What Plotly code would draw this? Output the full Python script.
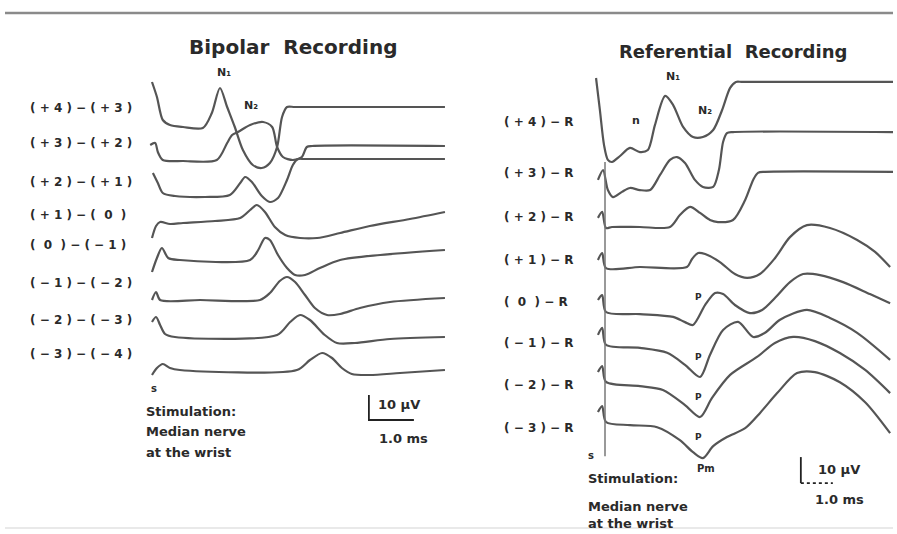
import plotly.graph_objects as go

W, H = 897, 534

# ---------------- Bipolar recording (left) : time in ms, amplitude in µV re. trace baseline
bip_labels = ["( + 4 ) − ( + 3 )", "( + 3 ) − ( + 2 )", "( + 2 ) − ( + 1 )", "( + 1 ) − (  0  )",
              "(  0  ) − ( − 1 )", "( − 1 ) − ( − 2 )", "( − 2 ) − ( − 3 )", "( − 3 ) − ( − 4 )"]
bip_offsets = [-50.8, -64.8, -78.4, -89.6, -104.0, -120.0, -134.8, -148.0]

bp1_t = [0, 0.11, 0.24, 0.4, 0.69, 1.13, 1.33, 1.51, 1.67, 1.84, 2.02, 2.24, 2.44, 2.62, 2.78, 2.89, 3.0, 3.18, 6.51]
bp1_v = [18, 12, 2.8, 0.8, 0, -0.4, 5.6, 15.6, 8, 0, -9.2, -15.2, -16.4, -14.4, -8, 4, 8, 8, 8]
bp2_t = [-0.04, 0.07, 0.13, 0.24, 0.69, 1.44, 1.67, 1.78, 1.91, 2.18, 2.47, 2.67, 2.78, 2.91, 3.13, 3.33, 3.44, 3.56, 6.51]
bp2_v = [6.8, 7.6, 4, 0.8, 0.4, 0.8, 7.6, 10.8, 12, 14.8, 16, 14, 6, 2, 0.8, 2, 6, 6.4, 6.4]
bp3_t = [0.02, 0.13, 0.24, 0.51, 1.18, 1.73, 1.96, 2.07, 2.22, 2.44, 2.62, 2.8, 3.0, 3.13, 3.24, 3.4, 6.51]
bp3_v = [9.2, 5.2, 1.2, 0, -0.4, 0.4, 5.2, 7.6, 5.6, 0, -2.4, -0.8, 6.4, 12.4, 14.8, 14.8, 14.8]
bp4_t = [0, 0.09, 0.18, 0.4, 0.69, 1.4, 1.96, 2.18, 2.33, 2.51, 2.73, 2.96, 3.29, 3.67, 4.18, 4.84, 5.73, 6.51]
bp4_v = [-5.6, -0.8, 0.8, 0, 0.4, 1.2, 2.4, 5.6, 7.6, 4.8, -1.2, -4.4, -5.6, -5.6, -3.6, -0.8, 2, 4.8]
bp5_t = [0, 0.11, 0.22, 0.36, 0.62, 2.18, 2.36, 2.51, 2.62, 2.8, 3.0, 3.18, 3.4, 3.73, 4.18, 5.07, 6.51]
bp5_v = [-4.8, 0.8, 4.8, 0.8, 0, 0, 4, 8.8, 8, 2, -3.2, -6, -6, -3.2, 0, 2, 4]
bp6_t = [0, 0.09, 0.18, 1.07, 2.4, 2.62, 2.84, 3.0, 3.18, 3.4, 3.62, 3.89, 4.18, 4.62, 5.29, 6.51]
bp6_v = [0, 3.2, 0, 0, 0, 2.8, 7.6, 9.2, 7.2, 2, -3.2, -6, -5.6, -3.2, -0.8, 0.8]
bp7_t = [0, 0.09, 0.18, 0.29, 0.51, 2.78, 3.07, 3.29, 3.51, 3.84, 4.11, 4.51, 5.29, 6.51]
bp7_v = [6, 8, 4.8, 1.2, 0, 0.8, 6, 8.8, 6.8, 0.8, -2.4, -2.4, -0.8, 0]
bp8_t = [0, 0.11, 0.24, 0.4, 0.62, 3.22, 3.51, 3.78, 4.0, 4.22, 4.44, 4.84, 5.51, 6.51]
bp8_v = [-2, 0.8, 2.4, 0.8, 0, 0, 4, 6.8, 4.8, 0.8, -1.6, -2, -1.2, 0]

# ---------------- Referential recording (right)
ref_labels = ["( + 4 ) − R", "( + 3 ) − R", "( + 2 ) − R", "( + 1 ) − R",
              "(  0  ) − R", "( − 1 ) − R", "( − 2 ) − R", "( − 3 ) − R"]
ref_offsets = [-62.3, -75.0, -87.3, -103.1, -120.4, -133.8, -147.7, -163.5]

rf1_t = [-0.28, -0.16, -0.03, 0.09, 0.22, 0.47, 0.78, 1.09, 1.34, 1.56, 1.88, 2.13, 2.44, 2.75, 3.06, 3.38, 3.66, 3.91, 4.09, 4.3, 9.0]
rf1_v = [32.3, 20, 6.5, 0.8, 0, 2.3, 5.4, 3.8, 4.6, 14.2, 25.4, 21.9, 13.5, 9.6, 9.6, 12.3, 20, 28.5, 30.8, 30.8, 30.8]
rf2_t = [-0.22, -0.06, 0.09, 0.25, 0.53, 0.78, 1.09, 1.41, 1.72, 2.03, 2.25, 2.5, 2.81, 3.06, 3.38, 3.56, 3.69, 3.81, 4.0, 9.0]
rf2_v = [5.8, 9.6, 1.9, -0.8, 1.2, 2.7, 1.9, 1.9, 7.7, 13.5, 14.6, 12.3, 5.8, 3.1, 3.1, 9.6, 20.4, 23.8, 24.2, 24.2]
rf3_t = [-0.22, -0.09, 0.03, 0.22, 1.09, 2.03, 2.34, 2.66, 2.97, 3.28, 3.53, 4.0, 4.38, 4.63, 4.78, 5.0, 9.0]
rf3_v = [3.5, 5.8, -0.4, 0, 0, 0, 4.6, 7.7, 5.4, 2.7, 1.9, 2.7, 10.4, 18.1, 20.8, 21.2, 21.2]
rf4_t = [-0.22, -0.09, 0.03, 1.09, 2.56, 2.72, 2.91, 3.13, 3.59, 4.06, 4.44, 4.84, 5.31, 5.78, 6.31, 7.03, 7.88, 8.44, 8.91]
rf4_v = [3.1, 5.8, 0, 0.4, 0.4, 3.5, 5.8, 5.4, 2.3, -2.3, -3.8, -2.3, 3.8, 11.9, 16.5, 15.4, 10.8, 6.2, 0.4]
rf5_t = [-0.22, -0.09, 0.03, 1.09, 2.13, 2.5, 2.75, 3.13, 3.44, 3.69, 4.06, 4.53, 4.91, 5.31, 5.78, 6.19, 6.72, 7.44, 8.28, 8.91]
rf5_v = [5, 6.9, 0.4, -0.4, -1.5, -3.5, -4.6, 3.1, 7.7, 7.3, 3.1, 0, 1.2, 5.8, 11.9, 15, 14.6, 11.9, 7.3, 3.8]
rf6_t = [-0.22, -0.09, 0.03, 1.09, 1.94, 2.5, 2.97, 3.28, 3.69, 4.16, 4.63, 5.0, 5.47, 6.31, 7.03, 7.88, 8.91]
rf6_v = [5, 7.7, 1.2, 0, -1.9, -6.5, -11.2, -2.7, 6.9, 10, 4.2, 5.8, 10.8, 14.6, 11.5, 5.8, -4.6]
rf7_t = [-0.22, -0.09, 0.03, 1.09, 1.81, 2.5, 2.97, 3.34, 3.91, 4.75, 5.31, 5.88, 6.56, 7.34, 8.13, 8.91]
rf7_v = [4.6, 6.9, 0.8, -0.8, -2.3, -8.1, -12.7, -5.4, 3.5, 10.4, 15.8, 18.1, 16.5, 11.9, 5.4, -3.5]
rf8_t = [-0.22, -0.09, 0.03, 0.78, 1.63, 2.34, 2.75, 3.06, 3.38, 3.81, 4.38, 4.84, 5.38, 6.0, 6.56, 7.34, 8.13, 8.91]
rf8_v = [5, 7.3, 1.2, 0, -0.8, -5.8, -10.4, -12.7, -8.1, -4.6, -1.2, 4.6, 12.3, 20, 20.4, 16.5, 8.8, -3.1]

scale_uv = 10      # µV calibration
scale_ms = 1.0     # ms calibration
stim_t = 0.0

bip_series = [(bp1_t, bp1_v), (bp2_t, bp2_v), (bp3_t, bp3_v), (bp4_t, bp4_v),
              (bp5_t, bp5_v), (bp6_t, bp6_v), (bp7_t, bp7_v), (bp8_t, bp8_v)]
ref_series = [(rf1_t, rf1_v), (rf2_t, rf2_v), (rf3_t, rf3_v), (rf4_t, rf4_v),
              (rf5_t, rf5_v), (rf6_t, rf6_v), (rf7_t, rf7_v), (rf8_t, rf8_v)]

TRACE_COLOR = "#555555"
TXT = "#2a2a2a"
FONT = "DejaVu Sans"

fig = go.Figure()

for (t, v), off in zip(bip_series, bip_offsets):
    fig.add_trace(go.Scatter(x=t, y=[a + off for a in v], mode="lines",
                             line=dict(color=TRACE_COLOR, width=2.2, shape="spline", smoothing=0.8),
                             xaxis="x", yaxis="y", showlegend=False, hoverinfo="skip"))

for (t, v), off in zip(ref_series, ref_offsets):
    fig.add_trace(go.Scatter(x=t, y=[a + off for a in v], mode="lines",
                             line=dict(color=TRACE_COLOR, width=2.2, shape="spline", smoothing=0.8),
                             xaxis="x2", yaxis="y2", showlegend=False, hoverinfo="skip"))

# stimulus artifact line (referential)
fig.add_trace(go.Scatter(x=[stim_t, stim_t], y=[ref_offsets[0], ref_offsets[-1] - 12], mode="lines",
                         line=dict(color="#777777", width=1.5), xaxis="x2", yaxis="y2",
                         showlegend=False, hoverinfo="skip"))

# calibration bars
bl_t0, bl_y0 = 4.82, -168.0
fig.add_trace(go.Scatter(x=[bl_t0, bl_t0, bl_t0 + scale_ms], y=[bl_y0 + scale_uv, bl_y0, bl_y0],
                         mode="lines", line=dict(color="#222222", width=1.8),
                         xaxis="x", yaxis="y", showlegend=False, hoverinfo="skip"))
br_t0, br_y0 = 6.12, -185.8
fig.add_trace(go.Scatter(x=[br_t0, br_t0], y=[br_y0 + scale_uv, br_y0],
                         mode="lines", line=dict(color="#222222", width=1.8),
                         xaxis="x2", yaxis="y2", showlegend=False, hoverinfo="skip"))
fig.add_trace(go.Scatter(x=[br_t0, br_t0 + scale_ms], y=[br_y0, br_y0],
                         mode="lines", line=dict(color="#222222", width=1.8, dash="dot"),
                         xaxis="x2", yaxis="y2", showlegend=False, hoverinfo="skip"))


def P(px, py):
    return px / W, 1 - py / H


ann = []


def text(px, py, s, size=12, anchor="center", bold=True, color=TXT):
    x, y = P(px, py)
    ann.append(dict(x=x, y=y, xref="paper", yref="paper", text=("<b>%s</b>" % s) if bold else s,
                    showarrow=False, xanchor=anchor, yanchor="middle",
                    font=dict(family=FONT, size=size, color=color)))


text(293, 47, "Bipolar  Recording", 20)
text(733, 51, "Referential  Recording", 18)

bip_label_y = [108, 143, 182, 215, 245, 283, 320, 354]
for lab, y in zip(bip_labels, bip_label_y):
    text(28, y, lab, 12, "left")
ref_label_y = [122, 173, 217, 260, 302, 343, 385, 428]
for lab, y in zip(ref_labels, ref_label_y):
    text(502, y, lab, 12, "left")

text(224, 72, "N₁", 11)
text(251, 105, "N₂", 11)
text(673, 76, "N₁", 11)
text(705, 111, "N₂", 11)
text(636, 120, "n", 11)
for y in [297, 357, 397, 437]:
    text(698, y, "P", 9)
text(706, 468, "Pm", 10)

text(149, 388, "s", 10, "left")
text(144, 411, "Stimulation:", 13, "left")
text(144, 431, "Median nerve", 13, "left")
text(144, 452, "at the wrist", 13, "left")
text(586, 455, "s", 10, "left")
text(586, 478, "Stimulation:", 13, "left")
text(586, 506, "Median nerve", 13, "left")
text(586, 523, "at the wrist", 13, "left")

text(376, 404, "10 µV", 13, "left")
text(377, 438, "1.0 ms", 13, "left")
text(816, 469, "10 µV", 13, "left")
text(813, 499, "1.0 ms", 13, "left")

shapes = [
    dict(type="line", xref="paper", yref="paper", x0=5 / W, x1=893 / W, y0=1 - 13 / H, y1=1 - 13 / H,
         line=dict(color="#8a8a8a", width=2.5)),
    dict(type="line", xref="paper", yref="paper", x0=5 / W, x1=893 / W, y0=1 - 528 / H, y1=1 - 528 / H,
         line=dict(color="#e2e2e2", width=1.5)),
]

fig.update_layout(
    width=W, height=H, margin=dict(l=0, r=0, t=0, b=0),
    paper_bgcolor="white", plot_bgcolor="white",
    xaxis=dict(domain=[0, 1], range=[-152 / 45, (W - 152) / 45], visible=False, fixedrange=True),
    yaxis=dict(domain=[0, 1], range=[-H / 2.5, 0], visible=False, fixedrange=True),
    xaxis2=dict(overlaying="x", range=[-605 / 32, (W - 605) / 32], visible=False, anchor="y2", fixedrange=True),
    yaxis2=dict(overlaying="y", range=[-H / 2.6, 0], visible=False, anchor="x2", fixedrange=True),
    annotations=ann, shapes=shapes, showlegend=False,
)

fig.write_html("out.html")
